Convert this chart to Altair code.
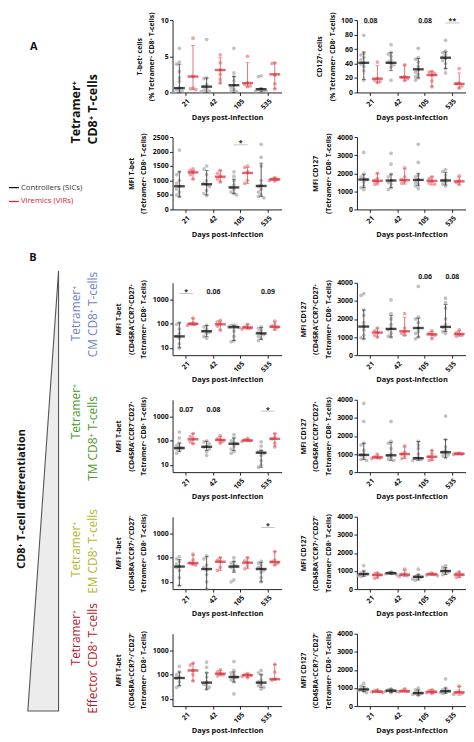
import math
import altair as alt
import pandas as pd

FONT = "Open Sans"
DAYS = ["21", "42", "105", "535"]
GROUPS = ["Controllers (SICs)", "Viremics (VIRs)"]

# ---------------- data ----------------
# stats tuples are (median, low whisker, high whisker) per day
A1L_CTRL = [[6.1, 4.2, 3.9, 2.9, 2.0, 1.5, 0.6, 0.4, 0.2, 0.1, 0.0], [7.3, 2.0, 1.9, 1.1, 0.8, 0.5, 0.3, 0.2, 0.1, 0.0],
            [6.1, 2.7, 2.2, 1.6, 1.0, 0.7, 0.4, 0.2, 0.1], [2.3, 2.2, 0.5, 0.4, 0.3, 0.2, 0.1]]
A1L_CTRL_STATS = [(0.6, 0.0, 3.9), (0.8, 0.0, 2.0), (1.0, 0.0, 2.2), (0.45, 0.1, 0.6)]
A1L_VIR = [[7.5, 2.2, 0.6, 0.5, 0.4], [5.2, 4.1, 3.1, 2.5, 1.8, 1.3], [5.0, 1.3, 1.1, 0.9, 0.8], [4.1, 4.0, 2.4, 1.2, 0.5]]
A1L_VIR_STATS = [(2.2, 0.4, 6.5), (3.1, 1.3, 4.8), (1.3, 0.8, 4.1), (2.5, 0.5, 4.1)]
A1L_SIG = []

A1R_CTRL = [[79, 54, 52, 48, 45, 41, 39, 36, 30, 17], [66, 55, 53, 50, 45, 42, 40, 38, 35, 17],
            [61, 48, 46, 42, 36, 31, 28, 25, 22, 20, 17], [72, 57, 55, 52, 49, 47, 44, 40, 33, 27]]
A1R_CTRL_STATS = [(41, 18, 56), (41, 30, 55), (32, 20, 47), (48, 33, 56)]
A1R_VIR = [[42, 19, 17, 15, 14], [38, 22, 21, 19, 17], [29, 28, 26, 24, 16, 8], [33, 13, 12, 9, 6]]
A1R_VIR_STATS = [(19, 13, 37), (21, 16, 38), (24, 8, 29), (12, 6, 27)]
A1R_SIG = [("21", 96, "0.08"), ("105", 96, "0.08"), ("535", 96, "**")]

A2L_CTRL = [[2050, 1300, 1200, 1000, 900, 800, 700, 600, 500, 450], [1500, 1400, 1200, 1000, 900, 870, 800, 650, 550, 480],
            [1300, 1150, 1000, 850, 760, 700, 600, 550, 500], [2250, 1800, 1500, 1000, 850, 800, 700, 600, 500, 450, 400]]
A2L_CTRL_STATS = [(800, 430, 1300), (870, 500, 1350), (760, 550, 1050), (810, 450, 1600)]
A2L_VIR = [[1400, 1350, 1280, 1200, 1050], [1350, 1250, 1150, 1050, 950], [1500, 1450, 1300, 1000, 900], [1100, 1050, 1030, 1000, 980]]
A2L_VIR_STATS = [(1280, 1050, 1350), (1130, 950, 1350), (1260, 900, 1450), (1040, 1000, 1100)]
A2L_SIG = [("105", 2230, "*")]

A2R_CTRL = [[3150, 1950, 1800, 1700, 1650, 1500, 1300, 1200, 1100], [3100, 2500, 1950, 1800, 1600, 1500, 1400, 1200, 1100],
            [3600, 2600, 1900, 1800, 1650, 1500, 1400, 1300, 1150], [2200, 2100, 1900, 1700, 1600, 1500, 1400, 1300]]
A2R_CTRL_STATS = [(1650, 1200, 1950), (1600, 1200, 1950), (1630, 1300, 2000), (1600, 1350, 2050)]
A2R_VIR = [[2000, 1700, 1600, 1500, 1400], [2300, 1800, 1650, 1550, 1450], [1800, 1700, 1550, 1450, 1400], [1850, 1600, 1500, 1400]]
A2R_VIR_STATS = [(1580, 1350, 2000), (1620, 1400, 2250), (1580, 1350, 1800), (1550, 1350, 1800)]
A2R_SIG = []

B1L_CTRL = [[110, 95, 60, 40, 30, 25, 15, 10], [85, 75, 60, 50, 45, 40, 30, 25],
            [90, 85, 80, 75, 70, 50, 30, 20, 18], [75, 65, 55, 45, 40, 35, 30, 25, 20]]
B1L_CTRL_STATS = [(30, 10, 110), (49, 30, 85), (72, 20, 85), (40, 22, 70)]
B1L_VIR = [[170, 110, 100, 95, 85], [140, 120, 100, 80, 55], [95, 75, 70, 65, 60], [130, 90, 80, 70, 60]]
B1L_VIR_STATS = [(100, 85, 170), (95, 55, 130), (70, 60, 95), (75, 55, 120)]
B1L_SIG = [("21", 1800, "*"), ("42", 1800, "0.06"), ("535", 1800, "0.09")]

B1R_CTRL = [[3400, 3300, 2500, 2200, 1800, 1600, 1400, 1100, 950, 900], [3050, 2300, 2000, 1700, 1500, 1400, 1200, 1050, 1000],
            [3800, 2100, 2000, 1800, 1500, 1300, 1200, 1000, 900], [3150, 2900, 2600, 2000, 1700, 1550, 1400, 1300, 1200]]
B1R_CTRL_STATS = [(1580, 900, 2500), (1450, 1000, 2200), (1500, 1000, 2050), (1560, 1300, 2800)]
B1R_VIR = [[1500, 1350, 1250, 1100, 1000], [2300, 1500, 1300, 1200, 1100], [1350, 1200, 1150, 1100, 900], [1400, 1250, 1150, 1100, 1050]]
B1R_VIR_STATS = [(1250, 1000, 1500), (1320, 1100, 2100), (1150, 950, 1300), (1170, 1050, 1350)]
B1R_SIG = [("105", 4250, "0.06"), ("535", 4250, "0.08")]

B2L_CTRL = [[230, 130, 80, 65, 55, 50, 45, 40, 30], [100, 90, 75, 60, 55, 45, 35, 25],
            [180, 130, 100, 85, 75, 60, 45, 35, 30], [90, 60, 40, 35, 30, 25, 15, 10, 8]]
B2L_CTRL_STATS = [(50, 35, 80), (56, 40, 95), (75, 40, 130), (32, 8, 40)]
B2L_VIR = [[200, 150, 120, 90, 75], [160, 120, 110, 95, 80], [125, 110, 100, 95], [200, 140, 120, 80, 55]]
B2L_VIR_STATS = [(115, 75, 200), (108, 80, 150), (103, 95, 120), (120, 60, 200)]
B2L_SIG = [("21", 1700, "0.07"), ("42", 1700, "0.08"), ("535", 1700, "*")]

B2R_CTRL = [[3800, 2800, 1600, 1500, 1200, 1000, 950, 800, 700, 650], [2800, 1700, 1600, 1300, 1000, 900, 800, 700, 650],
            [1700, 1500, 1300, 1000, 800, 750, 700, 650], [3100, 1800, 1400, 1200, 1100, 1000, 950, 900, 800]]
B2R_CTRL_STATS = [(950, 700, 1600), (930, 650, 1650), (770, 650, 1700), (1100, 800, 1800)]
B2R_VIR = [[1000, 850, 800, 780, 750], [1450, 1100, 1000, 850, 750], [1200, 1000, 850, 700, 650], [1050, 1020, 1000, 980]]
B2R_VIR_STATS = [(820, 750, 950), (1000, 750, 1400), (850, 650, 1200), (1020, 950, 1050)]
B2R_SIG = []

B3L_CTRL = [[110, 90, 70, 55, 45, 40, 30, 15, 7], [120, 90, 50, 40, 30, 20, 10, 5],
            [100, 70, 60, 50, 45, 40, 30, 12, 10], [70, 60, 50, 40, 35, 30, 25, 15, 10]]
B3L_CTRL_STATS = [(43, 7, 85), (34, 5, 110), (43, 25, 70), (34, 10, 65)]
B3L_VIR = [[140, 80, 60, 55, 50], [100, 80, 70, 40, 30], [100, 75, 65, 45, 35], [180, 80, 70, 60, 50]]
B3L_VIR_STATS = [(60, 50, 130), (68, 30, 100), (62, 35, 100), (66, 50, 180)]
B3L_SIG = [("535", 1800, "*")]

B3R_CTRL = [[1300, 1000, 900, 850, 800, 750, 700], [950, 900, 880, 850, 800],
            [1100, 800, 700, 650, 600, 550, 500], [1300, 1200, 1100, 1000, 950, 900, 800]]
B3R_CTRL_STATS = [(830, 700, 1000), (880, 800, 950), (680, 500, 800), (1000, 800, 1200)]
B3R_VIR = [[900, 850, 800, 700, 600], [1100, 850, 800, 750, 700], [900, 850, 820, 780, 750], [950, 850, 800, 700, 650]]
B3R_VIR_STATS = [(780, 600, 900), (800, 700, 1050), (820, 750, 880), (800, 650, 950)]
B3R_SIG = []

B4L_CTRL = [[220, 130, 100, 80, 70, 50, 35, 30], [330, 200, 120, 80, 50, 40, 35, 30, 25],
            [350, 150, 120, 100, 85, 80, 70, 60, 50, 16], [150, 120, 100, 60, 50, 40, 35, 30, 25]]
B4L_CTRL_STATS = [(73, 35, 130), (47, 25, 120), (80, 50, 130), (47, 30, 100)]
B4L_VIR = [[300, 250, 150, 100, 55], [160, 130, 110, 100, 90], [110, 100, 95, 85, 75], [270, 130, 65, 60]]
B4L_VIR_STATS = [(150, 55, 300), (110, 90, 150), (95, 75, 110), (65, 65, 270)]
B4L_SIG = []

B4R_CTRL = [[1250, 1100, 1000, 950, 900, 850, 800, 750], [950, 900, 850, 820, 800, 750],
            [1000, 900, 800, 720, 700, 650, 600], [1500, 1000, 900, 850, 800, 750, 700]]
B4R_CTRL_STATS = [(920, 800, 1100), (850, 750, 950), (720, 600, 900), (820, 700, 1000)]
B4R_VIR = [[900, 850, 800, 780, 750], [950, 850, 820, 800], [900, 850, 800, 750, 700], [1100, 800, 760, 700, 650]]
B4R_VIR_STATS = [(800, 750, 900), (820, 780, 950), (780, 700, 900), (760, 600, 1100)]
B4R_SIG = []

# ---------------- styling ----------------
RED = "#d9232e"
PT_GRAY = "#a8a8a8"
PT_RED = "#e57f86"
W = 110
H = 73
EXTRA_A2 = 29
ORIGIN = (173, 15)  # page position of the first panel's plot area

# sub-band slots inside each day band: 5 for each group, centre slot holds the median
SLOT_STEPS = [-2, -1, 0, 1, 2]
SLOTS = ["c%d" % s for s in SLOT_STEPS] + ["v%d" % s for s in SLOT_STEPS]
PREFIX = {GROUPS[0]: "c", GROUPS[1]: "v"}


def swarm(values, frac):
    """Dot-plot spreading: assign each point a sub-slot so that close values sit side by side."""
    placed = []
    order = sorted(range(len(values)), key=lambda i: -values[i])
    result = [0] * len(values)
    for i in order:
        py = frac(values[i]) * H
        best, best_d = 0, -1
        for s in [0, -1, 1, -2, 2]:
            d = min([abs(py - q) for (ss, q) in placed if ss == s] + [99])
            if d >= 3.2:
                best = s
                break
            if d > best_d:
                best, best_d = s, d
        placed.append((best, py))
        result[i] = best
    return result


def build_panel(ctrl, ctrl_stats, vir, vir_stats, sig, title, domain, values, log=False, extra=0, more=()):
    if log:
        frac = lambda v: (math.log10(v) - math.log10(domain[0])) / (math.log10(domain[1]) - math.log10(domain[0]))
    else:
        frac = lambda v: (v - domain[0]) / (domain[1] - domain[0])
    ys = alt.Scale(type="log" if log else "linear", domain=domain, nice=False, zero=False, range=[H, 0])
    yaxis = alt.Axis(title=title, values=values, format="d", titleLineHeight=12.5, titlePadding=5.5)
    X = alt.X("day:N", sort=DAYS, scale=alt.Scale(domain=DAYS, paddingInner=0, paddingOuter=0),
              axis=alt.Axis(title="Days post-infection", labelAngle=-45, offset=-extra, titlePadding=3))
    XO = alt.XOffset("slot:N", scale=alt.Scale(domain=SLOTS, paddingInner=0, paddingOuter=0))

    def Y(f):
        return alt.Y(f, type="quantitative", scale=ys, axis=yaxis)

    layers = []
    for g, pts, st, cpt, cline, cmed in [
        (GROUPS[0], ctrl, ctrl_stats, PT_GRAY, "#333333", "#000000"),
        (GROUPS[1], vir, vir_stats, PT_RED, "#e0505a", RED),
    ]:
        rows = []
        for d, vs in zip(DAYS, pts):
            for v, s in zip(vs, swarm(vs, frac)):
                rows.append({"day": d, "slot": "%s%d" % (PREFIX[g], s), "v": v})
        pdf = pd.DataFrame(rows)
        sdf = pd.DataFrame([{"day": d, "slot": PREFIX[g] + "0", "med": m, "lo": lo, "hi": hi}
                            for d, (m, lo, hi) in zip(DAYS, st)])
        layers.append(alt.Chart(pdf).mark_circle(size=14, opacity=0.7, color=cpt).encode(x=X, xOffset=XO, y=Y("v")))
        layers.append(alt.Chart(sdf).mark_rule(color=cline, strokeWidth=0.8).encode(x=X, xOffset=XO, y=Y("lo"), y2="hi:Q"))
        layers.append(alt.Chart(sdf).mark_tick(color=cline, thickness=0.8, size=4).encode(x=X, xOffset=XO, y=Y("lo")))
        layers.append(alt.Chart(sdf).mark_tick(color=cline, thickness=0.8, size=4).encode(x=X, xOffset=XO, y=Y("hi")))
        layers.append(alt.Chart(sdf).mark_tick(color=cmed, thickness=2.4, size=11).encode(x=X, xOffset=XO, y=Y("med")))
    if sig:
        sg = pd.DataFrame([{"day": d, "y": y, "label": t} for d, y, t in sig])
        layers.append(alt.Chart(sg).mark_tick(color="#8a8a8a", thickness=0.7, size=14).encode(x=X, y=Y("y")))
        layers.append(alt.Chart(sg).mark_text(font=FONT, fontSize=7, fontWeight="bold", baseline="bottom",
                                              dy=1.5, color="#222").encode(x=X, y=Y("y"), text="label:N"))
    layers.extend(more)
    return alt.layer(*layers).properties(width=W, height=H + extra)


def rel(px, py):
    return px - ORIGIN[0], py - ORIGIN[1]


def label(text, px, py, size, weight="normal", color="#111", angle=0, align="center"):
    x, y = rel(px, py)
    return alt.Chart(pd.DataFrame({"t": [text]})).mark_text(
        font=FONT, fontSize=size, fontWeight=weight, color=color, angle=angle, align=align, baseline="middle"
    ).encode(text="t:N", x=alt.value(x), y=alt.value(y))


def hline(px1, px2, py, color):
    x1, y = rel(px1, py)
    x2, _ = rel(px2, py)
    return alt.Chart(pd.DataFrame({"k": [0]})).mark_rule(color=color, strokeWidth=1.2).encode(
        x=alt.value(x1), x2=alt.value(x2), y=alt.value(y))


TRI_H = 444.0
TRI_W = 31.0
tri_path = "M {a} -1 L {b} 1 L {a} 1 Z".format(a=TRI_W / TRI_H, b=-TRI_W / TRI_H)
tx, ty = rel(42.5, 490)
triangle = alt.Chart(pd.DataFrame({"k": [0]})).mark_point(
    shape=tri_path, size=TRI_H * TRI_H, filled=True, fill="#ececec", stroke="#555555",
    strokeWidth=1.1, opacity=1, fillOpacity=1
).encode(x=alt.value(tx), y=alt.value(ty))

CM_C, TM_C, EM_C, EF_C = "#6f82c8", "#4b9a2c", "#b4b62a", "#b5172f"
annotations = [
    label("A", 33, 42, 11, "bold"),
    label("Tetramer⁺", 76, 108, 12.5, "bold", angle=270),
    label("CD8⁺ T-cells", 93, 105, 12.5, "bold", angle=270),
    hline(8, 18, 184, "#111"),
    label("Controllers (SICs)", 20, 184, 7.8, color="#333", align="left"),
    hline(8, 18, 198, RED),
    label("Viremics (VIRs)", 20, 198, 7.8, color=RED, align="left"),
    label("B", 32, 255, 11, "bold"),
    triangle,
    label("CD8⁺ T-cell differentiation", 21, 498, 11, "bold", angle=270),
    label("Tetramer⁺", 76, 311, 12, color=CM_C, angle=270),
    label("CM CD8⁺ T-cells", 93, 312, 12, color=CM_C, angle=270),
    label("Tetramer⁺", 76, 410, 12, color=TM_C, angle=270),
    label("TM CD8⁺ T-cells", 93, 437, 12, color=TM_C, angle=270),
    label("Tetramer⁺", 76, 549, 12, color=EM_C, angle=270),
    label("EM CD8⁺ T-cells", 93, 551, 12, color=EM_C, angle=270),
    label("Tetramer⁺", 76, 638, 12, color=EF_C, angle=270),
    label("Effector CD8⁺ T-cells", 93, 659, 12, color=EF_C, angle=270),
]

LIN_4000 = dict(domain=[0, 4000], values=[0, 1000, 2000, 3000, 4000])
LOG = dict(domain=[5, 5000], values=[10, 100, 1000], log=True)

A1L = build_panel(A1L_CTRL, A1L_CTRL_STATS, A1L_VIR, A1L_VIR_STATS, A1L_SIG,
                  ["T-bet⁺ cells", "(% Tetramer⁺ CD8⁺ T-cells)"], [0, 10], [0, 5, 10], more=annotations)
A1R = build_panel(A1R_CTRL, A1R_CTRL_STATS, A1R_VIR, A1R_VIR_STATS, A1R_SIG,
                  ["CD127⁺ cells", "(% Tetramer⁺ CD8⁺ T-cells)"], [0, 100], [0, 20, 40, 60, 80, 100])
A2L = build_panel(A2L_CTRL, A2L_CTRL_STATS, A2L_VIR, A2L_VIR_STATS, A2L_SIG,
                  ["MFI T-bet", "(Tetramer⁺ CD8⁺ T-cells)"], [0, 2500], [0, 500, 1000, 1500, 2000, 2500], extra=EXTRA_A2)
A2R = build_panel(A2R_CTRL, A2R_CTRL_STATS, A2R_VIR, A2R_VIR_STATS, A2R_SIG,
                  ["MFI CD127", "(Tetramer⁺ CD8⁺ T-cells)"], extra=EXTRA_A2, **LIN_4000)

T_CM = "(CD45RA⁻CCR7⁺CD27⁺"
T_TM = "(CD45RA⁻CCR7⁻CD27⁺"
T_EM = "(CD45RA⁻CCR7⁺/⁻CD27⁻"
T_EF = "(CD45RA⁺CCR7⁺/⁻CD27⁻"
T_END = "Tetramer⁺ CD8⁺ T-cells)"

B1L = build_panel(B1L_CTRL, B1L_CTRL_STATS, B1L_VIR, B1L_VIR_STATS, B1L_SIG, ["MFI T-bet", T_CM, T_END], **LOG)
B1R = build_panel(B1R_CTRL, B1R_CTRL_STATS, B1R_VIR, B1R_VIR_STATS, B1R_SIG, ["MFI CD127", T_CM, T_END], **LIN_4000)
B2L = build_panel(B2L_CTRL, B2L_CTRL_STATS, B2L_VIR, B2L_VIR_STATS, B2L_SIG, ["MFI T-bet", T_TM, T_END], **LOG)
B2R = build_panel(B2R_CTRL, B2R_CTRL_STATS, B2R_VIR, B2R_VIR_STATS, B2R_SIG, ["MFI CD127", T_TM, T_END], **LIN_4000)
B3L = build_panel(B3L_CTRL, B3L_CTRL_STATS, B3L_VIR, B3L_VIR_STATS, B3L_SIG, ["MFI T-bet", T_EM, T_END], **LOG)
B3R = build_panel(B3R_CTRL, B3R_CTRL_STATS, B3R_VIR, B3R_VIR_STATS, B3R_SIG, ["MFI CD127", T_EM, T_END], **LIN_4000)
B4L = build_panel(B4L_CTRL, B4L_CTRL_STATS, B4L_VIR, B4L_VIR_STATS, B4L_SIG, ["MFI T-bet", T_EF, T_END], **LOG)
B4R = build_panel(B4R_CTRL, B4R_CTRL_STATS, B4R_VIR, B4R_VIR_STATS, B4R_SIG, ["MFI CD127", T_EF, T_END], **LIN_4000)

chart = alt.concat(
    A1L, A1R, A2L, A2R, B1L, B1R, B2L, B2R, B3L, B3R, B4L, B4R,
    columns=2, spacing={"row": 45, "column": 76}, bounds="flush", align="each",
).properties(
    padding={"left": 0, "top": 0, "right": 0, "bottom": 0}, background="white"
).configure_view(stroke=None).configure_axis(
    labelFont=FONT, titleFont=FONT, labelFontSize=7, labelFontWeight="bold", titleFontSize=7,
    titleFontWeight="bold", domainColor="#222", tickColor="#222", labelColor="#111", titleColor="#111",
    tickSize=3, grid=False, labelPadding=1.5, domainWidth=1, tickWidth=1
).configure_axisX(titleFontSize=7.5)

chart.save("out.html", embed_options={"renderer": "svg", "actions": False})
